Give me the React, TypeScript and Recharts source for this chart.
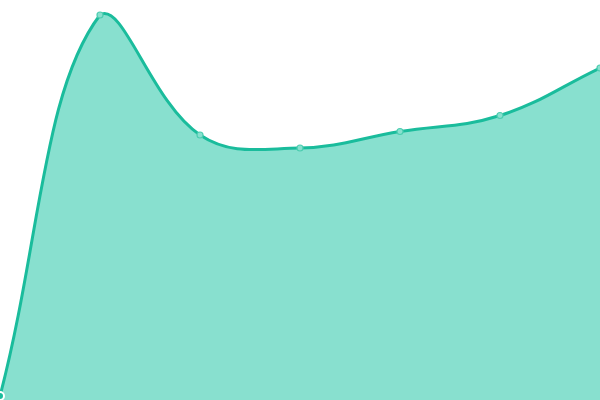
import { AreaChart, Area, XAxis, YAxis } from 'recharts';

const WIDTH = 600;
const HEIGHT = 400;

const categories = ['A', 'B', 'C', 'D', 'E', 'F', 'G'];
const values = [4, 385, 265, 252, 268.5, 284.5, 332];

const data = categories.map((name, i) => ({ name, value: values[i] }));

// spline with tension 0.4 (control points from neighbours, weighted by segment length),
// control points capped to the plot area
function splineCurve(context: any) {
  let line = NaN;
  let pts: number[][] = [];
  const tension = 0.4;
  const capX = (v: number) => Math.min(WIDTH, Math.max(0, v));
  const capY = (v: number) => Math.min(HEIGHT, Math.max(0, v));
  return {
    areaStart() { line = 0; },
    areaEnd() { line = NaN; },
    lineStart() { pts = []; },
    point(x: number, y: number) { pts.push([+x, +y]); },
    lineEnd() {
      const n = pts.length;
      if (n) {
        const cin: number[][] = [];
        const cout: number[][] = [];
        for (let i = 0; i < n; i++) {
          const [x, y] = pts[i];
          const [px, py] = pts[Math.max(0, i - 1)];
          const [nx, ny] = pts[Math.min(n - 1, i + 1)];
          const d01 = Math.hypot(x - px, y - py);
          const d12 = Math.hypot(nx - x, ny - y);
          const s01 = d01 + d12 ? d01 / (d01 + d12) : 0;
          const s12 = d01 + d12 ? d12 / (d01 + d12) : 0;
          const fa = tension * s01;
          const fb = tension * s12;
          cin.push([capX(x - fa * (nx - px)), capY(y - fa * (ny - py))]);
          cout.push([capX(x + fb * (nx - px)), capY(y + fb * (ny - py))]);
        }
        if (line) context.lineTo(pts[0][0], pts[0][1]);
        else context.moveTo(pts[0][0], pts[0][1]);
        for (let i = 1; i < n; i++) {
          context.bezierCurveTo(cout[i - 1][0], cout[i - 1][1], cin[i][0], cin[i][1], pts[i][0], pts[i][1]);
        }
      }
      if (line || (line !== 0 && n === 1)) context.closePath();
      line = 1 - line;
    },
  };
}

export default function App() {
  return (
    <div style={{ position: 'fixed', left: 0, top: 0, width: WIDTH, height: HEIGHT, background: '#fff' }}>
      <AreaChart width={WIDTH} height={HEIGHT} data={data} margin={{ top: 0, right: 0, bottom: 0, left: 0 }}>
        <XAxis dataKey="name" hide />
        <YAxis domain={[0, 400]} hide />
        <Area
          type={splineCurve as any}
          dataKey="value"
          stroke="#1abc9c"
          strokeWidth={3}
          fill="#88e0cf"
          fillOpacity={1}
          dot={{ r: 3, fill: '#88e0cf', stroke: '#4ccdb0', strokeWidth: 1.2 }}
          isAnimationActive={false}
        />
      </AreaChart>
    </div>
  );
}
